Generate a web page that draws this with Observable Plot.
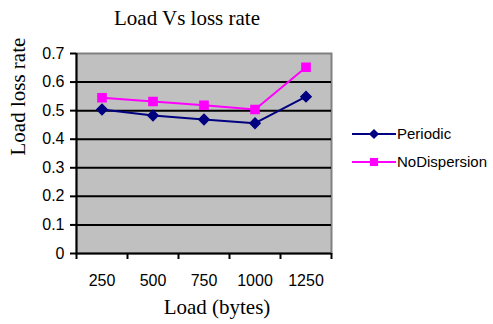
<!DOCTYPE html>
<html><head><meta charset="utf-8">
<script src="https://cdn.jsdelivr.net/npm/d3@7"></script>
<script src="https://cdn.jsdelivr.net/npm/@observablehq/plot@0.6"></script>
<style>body{margin:0;background:#fff}</style>
</head><body><div id="chart"></div>
<script>
const loads = [250, 500, 750, 1000, 1250];
const periodic = [0.504, 0.483, 0.469, 0.456, 0.549];
const noDispersion = [0.545, 0.532, 0.519, 0.504, 0.652];
const yTicks = [0, 0.1, 0.2, 0.3, 0.4, 0.5, 0.6, 0.7];
const seriesNames = ["Periodic", "NoDispersion"];
const seriesColors = ["#000080", "#ff00ff"];
const seriesSymbols = ["diamond2", "square"];
const titleText = "Load Vs loss rate";
const xLabel = "Load (bytes)";
const yLabel = "Load loss rate";

const step = loads[1] - loads[0];
const boundaries = [loads[0] - step / 2, ...loads.map(l => l + step / 2)];
const data = [];
loads.forEach((l, i) => {
  data.push({load: l, value: periodic[i], series: seriesNames[0]});
  data.push({load: l, value: noDispersion[i], series: seriesNames[1]});
});

const sans = "'Liberation Sans', Arial, sans-serif";
const serif = "'Liberation Serif', 'Times New Roman', serif";

const svg = Plot.plot({
  width: 493, height: 324,
  marginLeft: 76, marginRight: 162, marginTop: 53, marginBottom: 71,
  style: {fontFamily: sans, background: "#fff", color: "#000"},
  x: {type: "linear", domain: [boundaries[0], boundaries[boundaries.length - 1]]},
  y: {domain: [0, 0.7]},
  color: {domain: seriesNames, range: seriesColors},
  symbol: {domain: seriesNames, range: seriesSymbols},
  marks: [
    Plot.frame({fill: "#c0c0c0", stroke: "#808080", strokeWidth: 2}),
    Plot.ruleY(yTicks.slice(1, -1), {stroke: "#000", strokeWidth: 2}),
    Plot.ruleY([0], {stroke: "#000", strokeWidth: 2}),
    Plot.ruleX([boundaries[0]], {stroke: "#000", strokeWidth: 2, y1: 0, y2: 0.7}),
    Plot.axisY({ticks: yTicks, tickSize: 6, tickPadding: 6, fontSize: 16, tickFormat: d => String(d), label: null, strokeWidth: 2}),
    Plot.axisX({ticks: boundaries, tickSize: 6, tickFormat: () => "", label: null, strokeWidth: 2}),
    Plot.axisX({ticks: loads, tickSize: 0, tickPadding: 21, fontSize: 16, tickFormat: d => String(d), label: null}),
    Plot.line(data, {x: "load", y: "value", z: "series", stroke: "series", strokeWidth: 2}),
    Plot.dot(data, {x: "load", y: "value", symbol: "series", fill: "series", stroke: "series", r: 4.6}),
    Plot.text([titleText], {frameAnchor: "top", dx: -17, dy: -29, lineAnchor: "bottom", fontSize: 21, fontFamily: serif}),
    Plot.text([xLabel], {frameAnchor: "bottom", dx: 13, dy: 60, lineAnchor: "bottom", fontSize: 21, fontFamily: serif}),
    Plot.text([yLabel], {frameAnchor: "left", dx: -58, dy: 2, rotate: -90, lineAnchor: "middle", fontSize: 21, fontFamily: serif})
  ]
});

// legend
const lg = d3.select(svg).append("g").attr("font-family", sans).attr("font-size", 15).attr("text-anchor", "start");
const sym = d3.symbol();
seriesNames.forEach((name, i) => {
  const y = 134 + i * 28;
  const g = lg.append("g").attr("transform", `translate(352,${y})`);
  g.append("line").attr("x1", 0).attr("x2", 44).attr("stroke", seriesColors[i]).attr("stroke-width", 2);
  g.append("path").attr("transform", "translate(22,0)")
    .attr("d", sym.type(i === 0 ? d3.symbolDiamond2 : d3.symbolSquare).size(66)())
    .attr("fill", seriesColors[i]);
  g.append("text").attr("x", 45).attr("dy", "0.35em").attr("text-anchor", "start").text(name);
});

document.getElementById("chart").appendChild(svg);
</script>
</body></html>
